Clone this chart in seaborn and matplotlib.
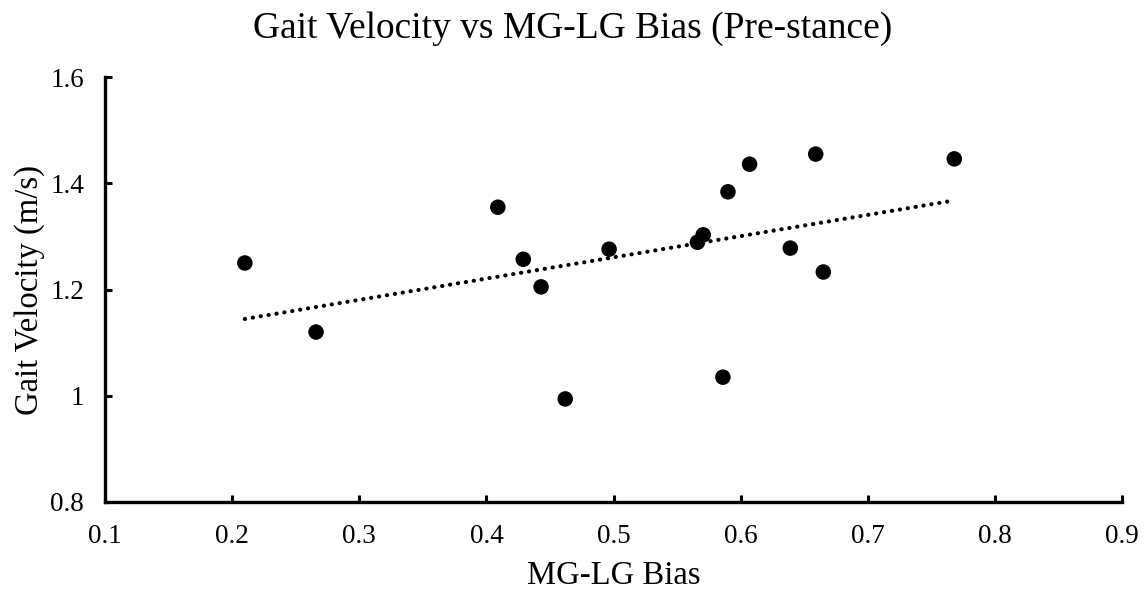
import numpy as np
import pandas as pd
import matplotlib
matplotlib.use("Agg")
import matplotlib.pyplot as plt
import seaborn as sns

bias = [0.210, 0.266, 0.409, 0.429, 0.443, 0.462, 0.4965, 0.566, 0.5705,
        0.590, 0.607, 0.659, 0.639, 0.665, 0.586, 0.768]
velocity = [1.250, 1.120, 1.355, 1.257, 1.205, 0.994, 1.276, 1.289, 1.303,
            1.384, 1.436, 1.455, 1.278, 1.233, 1.035, 1.446]
x_ticks = [0.1, 0.2, 0.3, 0.4, 0.5, 0.6, 0.7, 0.8, 0.9]
x_tick_labels = ["0.1", "0.2", "0.3", "0.4", "0.5", "0.6", "0.7", "0.8", "0.9"]
y_ticks = [0.8, 1.0, 1.2, 1.4, 1.6]
y_tick_labels = ["0.8", "1", "1.2", "1.4", "1.6"]

df = pd.DataFrame({"bias": bias, "velocity": velocity})

sns.set_style("white")
plt.rcParams["font.family"] = ["Liberation Serif", "DejaVu Serif"]
plt.rcParams["text.color"] = "black"
plt.rcParams["axes.labelcolor"] = "black"

fig = plt.figure(figsize=(11.45, 5.93), dpi=100)
ax = fig.add_axes([0.0917, 0.1535, 0.9883 - 0.0917 - 0.0083, 0.870 - 0.1535])

sns.regplot(data=df, x="bias", y="velocity", ax=ax, ci=None, truncate=True,
            scatter_kws=dict(s=125, color="black", edgecolor="none", alpha=1),
            line_kws=dict(color="black", lw=3.0, linestyle=(0, (0.05, 1.87)),
                          dash_capstyle="round"))

ax.set_xlim(0.1, 0.9)
ax.set_ylim(0.8, 1.6)
ax.set_xticks(x_ticks)
ax.set_xticklabels(x_tick_labels)
ax.set_yticks(y_ticks)
ax.set_yticklabels(y_tick_labels)
ax.tick_params(direction="in", length=5, width=2.2, labelsize=19.5,
               colors="black", left=True, bottom=True)
ax.tick_params(axis="y", pad=15)
ax.tick_params(axis="x", pad=16)
for side in ["top", "right"]:
    ax.spines[side].set_visible(False)
for side in ["left", "bottom"]:
    ax.spines[side].set_linewidth(2.4)
    ax.spines[side].set_color("black")

ax.set_xlabel("MG-LG Bias", fontsize=23.5, labelpad=8)
ax.set_ylabel("Gait Velocity (m/s)", fontsize=23.5, labelpad=4)
fig.suptitle("Gait Velocity vs MG-LG Bias (Pre-stance)", fontsize=27,
             x=0.5, y=0.98, va="top")

fig.savefig("out.png", dpi=100, facecolor="white")
